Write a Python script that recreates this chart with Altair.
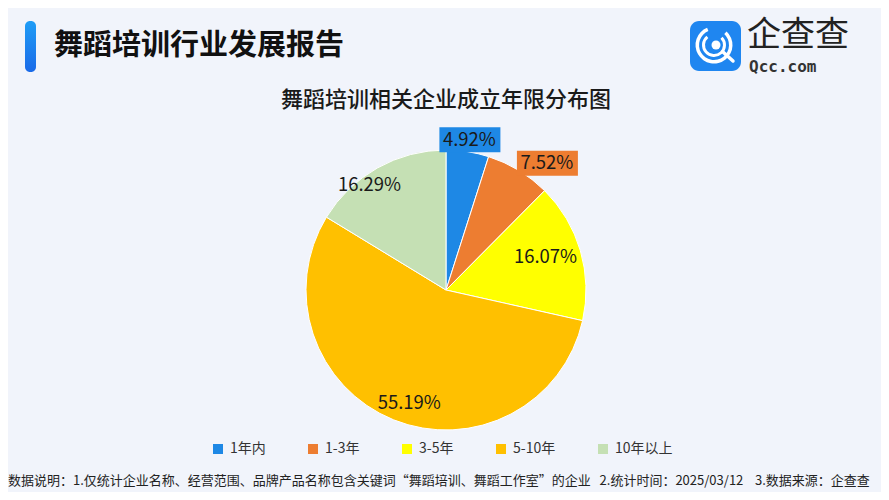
import altair as alt
import pandas as pd

categories = ["1年内", "1-3年", "3-5年", "5-10年", "10年以上"]
shares = [4.92, 7.52, 16.07, 55.19, 16.29]
colors = ["#1e88e5", "#ed7d31", "#ffff00", "#ffc000", "#c5e0b4"]

title_text = "舞蹈培训行业发展报告"
chart_title = "舞蹈培训相关企业成立年限分布图"
brand = "企查查"
brand_sub = "Qcc.com"
footnote = "数据说明：1.仅统计企业名称、经营范围、品牌产品名称包含关键词“舞蹈培训、舞蹈工作室”的企业\u00a0\u00a0\u00a02.统计时间：2025/03/12\u00a0\u00a0\u00a0\u00a03.数据来源：企查查"

df = pd.DataFrame({"cat": categories, "pct": shares, "order": list(range(len(categories)))})

W, H = 873, 484
CX, CY, R = 438, 282, 140
FONT = "Noto Sans CJK SC"

color_scale = alt.Scale(domain=categories, range=colors)

base = alt.Chart(df)

pie = base.mark_arc(stroke="white", strokeWidth=1, radius=R).encode(
    theta=alt.Theta("pct:Q", stack=True),
    order=alt.Order("order:Q"),
    color=alt.Color(
        "cat:N",
        scale=color_scale,
        sort=categories,
        legend=alt.Legend(
            title=None,
            orient="none",
            legendX=203,
            legendY=434,
            direction="horizontal",
            symbolType="square",
            symbolSize=100,
            symbolStrokeWidth=0,
            labelFontSize=14,
            labelFont=FONT,
            labelColor="#333333",
            columnPadding=40,
            labelOffset=5,
        ),
    ),
    x=alt.value(CX),
    y=alt.value(CY),
)

# label positions derived from cumulative shares
lab = base.transform_window(
    cum="sum(pct)", sort=[alt.SortField("order")], frame=[None, 0]
).transform_joinaggregate(total="sum(pct)").transform_calculate(
    mid="(datum.cum - datum.pct/2) / datum.total * 2 * PI",
    ang="datum.mid + (datum.cat == '1-3年' ? 0.127 : 0) + (datum.cat == '10年以上' ? -0.117 : 0) + (datum.cat == '3-5年' ? -0.04 : 0) + (datum.cat == '5-10年' ? -0.07 : 0)",
    rr="datum.pct < 6 ? 152 : datum.pct < 10 ? 162 : datum.pct > 50 ? 119 : datum.cat == '10年以上' ? 130 : 105",
    px=f"{CX} + datum.rr * sin(datum.ang)",
    py=f"{CY} - datum.rr * cos(datum.ang)",
    px1="datum.px - 30",
    px2="datum.px + 31",
    py1="datum.py - 12.5",
    py2="datum.py + 12.5",
    label="format(datum.pct, '.2f') + '%'",
    boxed="datum.pct < 10",
)

boxes = lab.transform_filter("datum.boxed").mark_rect().encode(
    x=alt.X("px1:Q", scale=None, axis=None),
    x2="px2:Q",
    y=alt.Y("py1:Q", scale=None, axis=None),
    y2="py2:Q",
    color=alt.Color("cat:N", scale=color_scale, legend=None),
)

labels = lab.mark_text(fontSize=18.5, font=FONT, color="#1a1a1a", fontWeight=400).encode(
    x=alt.X("px:Q", scale=None, axis=None),
    y=alt.Y("py:Q", scale=None, axis=None),
    text="label:N",
)

# header
hdr = pd.DataFrame({"t": [title_text]})
bar = alt.Chart(hdr).mark_rect(
    cornerRadius=5,
    color=alt.Gradient(
        gradient="linear",
        stops=[alt.GradientStop(color="#1f9df6", offset=0), alt.GradientStop(color="#1a6ae8", offset=1)],
        x1=0, x2=0, y1=0, y2=1,
    ),
).encode(x=alt.value(17), x2=alt.value(28), y=alt.value(13), y2=alt.value(64))

head_text = alt.Chart(hdr).mark_text(
    align="left", baseline="middle", fontSize=29, fontWeight="bold", font=FONT, color="#111111"
).encode(x=alt.value(46), y=alt.value(38), text="t:N")

ct = pd.DataFrame({"t": [chart_title]})
chart_title_mark = alt.Chart(ct).mark_text(
    align="center", baseline="middle", fontSize=22, font=FONT, fontWeight=500, color="#1a1a1a"
).encode(x=alt.value(438), y=alt.value(92), text="t:N")

# logo
logo_box = alt.Chart(hdr).mark_rect(cornerRadius=9, color="#1f86f0").encode(
    x=alt.value(682), x2=alt.value(733), y=alt.value(13), y2=alt.value(63)
)
rings = pd.DataFrame({"r1": [15, 9], "r2": [18.5, 12], "t1": [0.75, 0.8], "t2": [5.9, 5.6]})
logo_rings = alt.Chart(rings).mark_arc(color="white").encode(
    theta=alt.Theta("t1:Q", scale=None),
    theta2="t2:Q",
    radius=alt.Radius("r1:Q", scale=None),
    radius2="r2:Q",
    x=alt.value(706),
    y=alt.value(37),
)
dot = alt.Chart(hdr).mark_arc(color="white", theta=0, theta2=6.2832, radius=4.5).encode(
    x=alt.value(708), y=alt.value(37)
)
tail = alt.Chart(hdr).mark_rule(color="white", strokeWidth=3.5, strokeCap="round").encode(
    x=alt.value(715), x2=alt.value(725), y=alt.value(44), y2=alt.value(53)
)

bt = pd.DataFrame({"t": [brand], "s": [brand_sub]})
brand_text = alt.Chart(bt).mark_text(
    align="left", baseline="middle", fontSize=34, font=FONT, fontWeight=400, color="#222222"
).encode(x=alt.value(739), y=alt.value(28), text="t:N")

brand_sub_text = alt.Chart(bt).mark_text(
    align="left", baseline="middle", fontSize=16, font="DejaVu Sans Mono", fontWeight="bold", color="#333333"
).encode(x=alt.value(741), y=alt.value(59), text="s:N")

fn = pd.DataFrame({"t": [footnote]})
foot = alt.Chart(fn).mark_text(
    align="left", baseline="middle", fontSize=13, font=FONT, color="#222222"
).encode(x=alt.value(0), y=alt.value(473), text="t:N")

chart = alt.layer(
    pie, boxes, labels, bar, head_text, chart_title_mark, logo_box, logo_rings, dot, tail,
    brand_text, brand_sub_text, foot,
).properties(
    width=W, height=H, autosize="none", padding=0,
    background="#f1f4fb",
).configure_view(stroke=None)

chart.save("out.html", embed_options={"renderer": "svg", "actions": False})
